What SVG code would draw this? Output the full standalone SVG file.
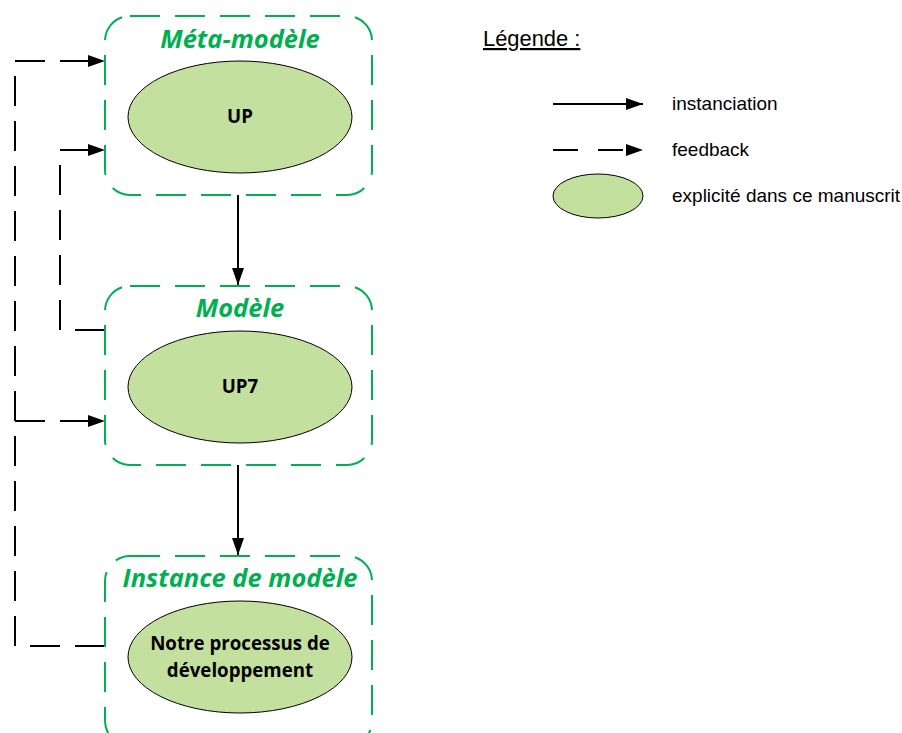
<svg xmlns="http://www.w3.org/2000/svg" width="902" height="733" viewBox="0 0 902 733">
<style>
.box{fill:none;stroke:#00B050;stroke-width:2;stroke-dasharray:30 15}
.ell{fill:#C4E09E;stroke:#000;stroke-width:1}
.title{font-family:"Open Sans","Noto Sans",sans-serif;font-weight:bold;font-style:italic;fill:#00B050;font-size:25.5px;text-anchor:middle}
.lbl{font-family:"Open Sans","Noto Sans",sans-serif;font-weight:bold;fill:#000;font-size:18.7px;text-anchor:middle}
.leg{font-family:"Liberation Sans",Arial,sans-serif;fill:#000;font-size:19px}
.solid{fill:none;stroke:#000;stroke-width:2}
.dash{fill:none;stroke:#000;stroke-width:2;stroke-dasharray:30 15}
</style>
<defs>
<marker id="ah" markerUnits="userSpaceOnUse" markerWidth="17" markerHeight="12" refX="17" refY="6" orient="auto">
<path d="M0,0 L17,6 L0,12 Z" fill="#000"/>
</marker>
</defs>
<rect width="902" height="733" fill="#fff"/>
<g id="connectors">
<path class="solid" d="M238,195 V285" marker-end="url(#ah)"/>
<path class="solid" d="M238,465 V555" marker-end="url(#ah)"/>
<path class="dash" d="M105,646 H15 V61 H105" marker-end="url(#ah)"/>
<path class="dash" d="M15,421 H105" marker-end="url(#ah)"/>
<path class="dash" d="M105,330 H60 V150 H105" marker-end="url(#ah)"/>
</g>
<g id="meta-modele">
<rect class="box" x="105" y="16" width="267" height="179" rx="25"/>
<text class="title" x="240" y="48">Méta-modèle</text>
<ellipse class="ell" cx="240" cy="117" rx="112" ry="56"/>
<text class="lbl" x="240" y="123">UP</text>
</g>
<g id="modele">
<rect class="box" x="105" y="286" width="267" height="179" rx="25"/>
<text class="title" x="240" y="317">Modèle</text>
<ellipse class="ell" cx="240" cy="387" rx="112" ry="56"/>
<text class="lbl" x="240" y="393">UP7</text>
</g>
<g id="instance">
<rect class="box" x="105" y="556" width="267" height="190" rx="25"/>
<text class="title" x="240" y="587">Instance de modèle</text>
<ellipse class="ell" cx="240" cy="657" rx="112" ry="56"/>
<text class="lbl" x="240" y="650">Notre processus de</text>
<text class="lbl" x="240" y="677">développement</text>
</g>
<g id="legend">
<text class="leg" x="483" y="46" style="font-size:21.9px;text-decoration:underline">Légende :</text>
<path class="solid" d="M553,104 H643" marker-end="url(#ah)"/>
<text class="leg" x="672" y="110">instanciation</text>
<path class="dash" d="M553,150 H643" style="stroke-dasharray:25 20" marker-end="url(#ah)"/>
<text class="leg" x="672" y="156">feedback</text>
<ellipse class="ell" cx="598" cy="196" rx="45" ry="22"/>
<text class="leg" x="672" y="202">explicité dans ce manuscrit</text>
</g>
</svg>
